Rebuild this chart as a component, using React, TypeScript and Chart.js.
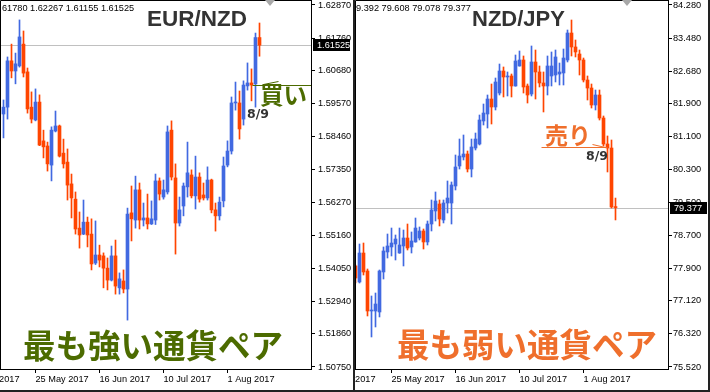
import React, { useEffect, useRef } from 'react';
import { Chart, registerables } from 'chart.js';

Chart.register(...registerables);

// ---- shared date axis (trading-day index) ----
const dateTickDays = [-8, 8, 24, 40, 56];
const dateTickLabels = ['3 May 2017', '25 May 2017', '16 Jun 2017', '10 Jul 2017', '1 Aug 2017'];
const signalDay = 62; // 8/9

// ---- EUR/NZD daily ----
const eurNzdFirstDay = 0;
const eurNzdOpen = [
  1.5922, 1.5945, 1.6100, 1.6066, 1.6083, 1.6156, 1.6063, 1.5945, 1.5902, 1.5962,
  1.5832, 1.5815, 1.5751, 1.5865, 1.5882, 1.5791, 1.5761, 1.5688, 1.5637, 1.5540,
  1.5520, 1.5560, 1.5520, 1.5423, 1.5450, 1.5447, 1.5406, 1.5366, 1.5447, 1.5340,
  1.5363, 1.5336, 1.5591, 1.5567, 1.5668, 1.5567, 1.5574, 1.5554, 1.5567, 1.5698,
  1.5644, 1.5661, 1.5868, 1.5708, 1.5557, 1.5614, 1.5678, 1.5718, 1.5648, 1.5711,
  1.5651, 1.5641, 1.5701, 1.5601, 1.5581, 1.5631, 1.5751, 1.5798, 1.5959, 1.5959,
  1.5905, 1.6016, 1.6026, 1.6023, 1.6178,
];
const eurNzdHigh = [
  1.5969, 1.6113, 1.6156, 1.6126, 1.6237, 1.6200, 1.6076, 1.5996, 1.6006, 1.5986,
  1.5868, 1.5828, 1.5879, 1.5932, 1.5885, 1.5838, 1.5805, 1.5721, 1.5661, 1.5594,
  1.5634, 1.5577, 1.5571, 1.5564, 1.5483, 1.5457, 1.5440, 1.5480, 1.5500, 1.5390,
  1.5400, 1.5607, 1.5681, 1.5714, 1.5691, 1.5624, 1.5654, 1.5631, 1.5721, 1.5708,
  1.5701, 1.5882, 1.5899, 1.5755, 1.5644, 1.5691, 1.5828, 1.5735, 1.5781, 1.5725,
  1.5691, 1.5745, 1.5704, 1.5624, 1.5644, 1.5778, 1.5832, 1.5979, 1.6029, 1.5999,
  1.6033, 1.6093, 1.6073, 1.6193, 1.62267,
];
const eurNzdLow = [
  1.5842, 1.5905, 1.6043, 1.6023, 1.6079, 1.6046, 1.5925, 1.5892, 1.5899, 1.5816,
  1.5775, 1.5731, 1.5698, 1.5862, 1.5778, 1.5741, 1.5634, 1.5574, 1.5520, 1.5473,
  1.5518, 1.5477, 1.5400, 1.5418, 1.5410, 1.5340, 1.5333, 1.5363, 1.5319, 1.5319,
  1.5323, 1.5232, 1.5497, 1.5540, 1.5537, 1.5547, 1.5537, 1.5552, 1.5552, 1.5634,
  1.5637, 1.5654, 1.5701, 1.5453, 1.5547, 1.5581, 1.5644, 1.5641, 1.5604, 1.5627,
  1.5634, 1.5634, 1.5591, 1.5530, 1.5567, 1.5611, 1.5745, 1.5788, 1.5935, 1.5838,
  1.5885, 1.6002, 1.5966, 1.5945, 1.61155,
];
const eurNzdClose = [
  1.5945, 1.6100, 1.6066, 1.6090, 1.6180, 1.6059, 1.5939, 1.5905, 1.5962, 1.5818,
  1.5812, 1.5755, 1.5868, 1.5882, 1.5781, 1.5755, 1.5684, 1.5641, 1.5537, 1.5517,
  1.5560, 1.5517, 1.5420, 1.5450, 1.5433, 1.5406, 1.5366, 1.5447, 1.5346, 1.5370,
  1.5336, 1.5587, 1.5571, 1.5668, 1.5567, 1.5574, 1.5554, 1.5571, 1.5698, 1.5654,
  1.5668, 1.5862, 1.5711, 1.5557, 1.5601, 1.5681, 1.5725, 1.5648, 1.5711, 1.5637,
  1.5641, 1.5701, 1.5601, 1.5581, 1.5627, 1.5748, 1.5798, 1.5959, 1.5962, 1.5872,
  1.6019, 1.6026, 1.6019, 1.6178, 1.61525,
];
const eurNzdTicks = [1.6287, 1.6176, 1.6068, 1.5957, 1.5846, 1.5735, 1.5627, 1.5516, 1.5405, 1.5294, 1.5186, 1.5075];

// ---- NZD/JPY daily ----
const nzdJpyFirstDay = -1;
const nzdJpyOpen = [
  77.964, 77.577, 78.278, 77.843, 76.875, 76.875, 76.851, 77.819, 78.303, 78.424,
  78.496, 78.278, 78.448, 78.641, 78.424, 78.545, 78.641, 78.811, 78.545, 78.980,
  79.295, 79.464, 79.077, 79.488, 79.488, 79.900, 80.384, 80.602, 80.674, 80.311,
  80.819, 80.916, 81.473, 81.642, 82.005, 81.812, 82.150, 82.683, 82.538, 82.562,
  82.320, 82.804, 82.949, 82.320, 82.126, 82.901, 82.659, 82.393, 82.320, 82.562,
  82.586, 82.610, 82.635, 82.949, 83.602, 83.264, 83.094, 82.949, 82.465, 82.271,
  81.860, 82.102, 81.545, 80.916, 80.819, 79.392,
];
const nzdJpyHigh = [
  77.988, 78.496, 78.520, 77.891, 77.238, 77.310, 77.867, 78.424, 78.738, 78.883,
  78.714, 78.883, 78.835, 78.980, 78.787, 79.125, 78.908, 78.859, 79.053, 79.561,
  79.755, 79.561, 79.561, 80.021, 79.997, 80.650, 81.037, 81.134, 80.747, 81.037,
  81.182, 81.618, 81.884, 82.102, 82.368, 82.513, 82.852, 82.780, 82.659, 82.610,
  83.070, 83.167, 83.046, 82.368, 83.288, 83.191, 82.804, 82.659, 83.046, 83.143,
  83.191, 82.876, 83.215, 83.675, 83.917, 83.433, 83.191, 82.997, 82.562, 82.368,
  82.223, 82.223, 81.594, 81.110, 81.013, 79.608,
];
const nzdJpyLow = [
  77.552, 77.552, 77.746, 76.754, 76.246, 76.488, 76.730, 77.649, 78.157, 78.206,
  78.109, 78.270, 77.964, 78.351, 78.278, 78.540, 78.593, 78.375, 78.472, 78.811,
  79.053, 78.932, 79.005, 79.246, 78.980, 79.803, 80.311, 80.529, 80.239, 80.118,
  80.771, 80.892, 81.376, 81.303, 81.400, 81.739, 82.102, 82.054, 82.078, 82.054,
  82.315, 82.800, 82.150, 81.908, 82.078, 82.005, 82.296, 81.691, 82.102, 82.320,
  82.417, 82.344, 82.344, 82.901, 83.046, 83.022, 82.586, 82.417, 81.981, 81.787,
  81.739, 81.497, 80.868, 80.239, 79.367, 79.078,
];
const nzdJpyClose = [
  77.673, 78.278, 77.819, 76.875, 76.899, 77.044, 77.843, 78.327, 78.448, 78.520,
  78.617, 78.472, 78.641, 78.399, 78.569, 78.883, 78.811, 78.545, 78.980, 79.319,
  79.537, 79.101, 79.488, 79.609, 79.924, 80.360, 80.626, 80.674, 80.311, 80.844,
  81.037, 81.497, 81.666, 82.005, 81.812, 82.417, 82.683, 82.538, 82.562, 82.320,
  82.925, 82.949, 82.296, 82.102, 82.901, 82.659, 82.393, 82.320, 82.804, 82.804,
  83.022, 82.659, 82.997, 83.602, 83.264, 83.143, 82.949, 82.465, 82.271, 81.860,
  82.102, 81.545, 80.916, 80.819, 79.392, 79.377,
];
const nzdJpyTicks = [84.28, 83.48, 82.68, 81.9, 81.1, 80.3, 79.5, 78.7, 77.9, 77.12, 76.32, 75.52];

const BULL = '#4169E1';
const BEAR = '#FF4500';
const GREEN = '#4c6b00';
const ORANGE = '#ef6f2c';
const AXIS_FONT = '"Liberation Sans", Arial, sans-serif';

type Panel = {
  open: number[]; high: number[]; low: number[]; close: number[];
  firstDay: number; ticks: number[]; decimals: number;
  yMin: number; yMax: number; xMin: number; xMax: number;
  axisWidth: number; labelPad: number; signal: 'buy' | 'sell';
};

const panels: Panel[] = [
  {
    open: eurNzdOpen, high: eurNzdHigh, low: eurNzdLow, close: eurNzdClose,
    firstDay: eurNzdFirstDay, ticks: eurNzdTicks, decimals: 5,
    yMin: 1.50683, yMax: 1.63037, xMin: -0.875, xMax: 76.875,
    axisWidth: 42, labelPad: 3, signal: 'buy',
  },
  {
    open: nzdJpyOpen, high: nzdJpyHigh, low: nzdJpyLow, close: nzdJpyClose,
    firstDay: nzdJpyFirstDay, ticks: nzdJpyTicks, decimals: 3,
    yMin: 75.471, yMax: 84.401, xMin: -1.125, xMax: 77.125,
    axisWidth: 40, labelPad: 1, signal: 'sell',
  },
];

function makeOverlay(p: Panel) {
  return {
    id: 'mt4overlay',
    beforeDatasetsDraw(chart: any) {
      const { ctx, chartArea: a, scales } = chart;
      const last = p.close[p.close.length - 1];
      const py = Math.round(scales.y.getPixelForValue(last)) + 0.5;
      ctx.save();
      ctx.strokeStyle = '#c0c0c0';
      ctx.lineWidth = 1;
      ctx.beginPath();
      ctx.moveTo(a.left, py);
      ctx.lineTo(a.right, py);
      ctx.stroke();
      ctx.restore();
    },
    afterDraw(chart: any) {
      const { ctx, chartArea: a, scales } = chart;
      const x = scales.x, y = scales.y;
      ctx.save();
      // frame
      ctx.strokeStyle = '#000';
      ctx.lineWidth = 1;
      ctx.beginPath();
      ctx.moveTo(a.left + 0.5, a.bottom);
      ctx.lineTo(a.left + 0.5, a.top + 0.5);
      ctx.lineTo(a.right, a.top + 0.5);
      ctx.stroke();
      // chart-shift marker
      const cx = a.right - 41;
      ctx.fillStyle = '#a8a8a8';
      ctx.beginPath();
      ctx.moveTo(cx - 5, 0);
      ctx.lineTo(cx + 5, 0);
      ctx.lineTo(cx, 6);
      ctx.closePath();
      ctx.fill();
      // signal trend lines
      const si = signalDay - p.firstDay;
      const sx = x.getPixelForValue(signalDay);
      const sy = Math.round(y.getPixelForValue(p.close[si])) + 0.5;
      ctx.lineWidth = 1;
      if (p.signal === 'buy') {
        ctx.strokeStyle = GREEN;
        ctx.beginPath();
        ctx.moveTo(sx + 1, sy);
        ctx.lineTo(a.right, sy);
        ctx.stroke();
        ctx.beginPath();
        ctx.moveTo(sx + 12, sy - 1);
        ctx.lineTo(sx + 27, sy - 4);
        ctx.stroke();
      } else {
        ctx.strokeStyle = ORANGE;
        ctx.beginPath();
        ctx.moveTo(sx - 66, sy - 1);
        ctx.lineTo(sx, sy - 1);
        ctx.stroke();
        ctx.beginPath();
        ctx.moveTo(sx - 15, sy - 4);
        ctx.lineTo(sx - 2, sy - 1);
        ctx.stroke();
      }
      // current price box
      const last = p.close[p.close.length - 1];
      const py = Math.round(y.getPixelForValue(last));
      ctx.fillStyle = '#000';
      ctx.fillRect(a.right + 2, py - 6, 37, 12);
      ctx.fillStyle = '#fff';
      ctx.font = '9.2px ' + AXIS_FONT;
      ctx.textBaseline = 'middle';
      ctx.textAlign = 'left';
      ctx.fillText(last.toFixed(p.decimals), a.right + 6, py + 0.5);
      ctx.restore();
    },
  };
}

function buildChart(canvas: HTMLCanvasElement, p: Panel) {
  const days = p.close.map((_, i) => p.firstDay + i);
  const colors = p.close.map((c, i) => (c >= p.open[i] ? BULL : BEAR));
  const bodies = days.map((d, i) => ({ x: d, y: [p.open[i], p.close[i]] }));
  const wicks = days.map((d, i) => ({ x: d, y: [p.low[i], p.high[i]] }));
  return new Chart(canvas, {
    type: 'bar',
    data: {
      datasets: [
        { data: bodies as any, backgroundColor: colors, borderWidth: 0, barThickness: 3, grouped: false, minBarLength: 1 } as any,
        { data: wicks as any, backgroundColor: colors, borderWidth: 0, barThickness: 1, grouped: false } as any,
      ],
    },
    options: {
      animation: false,
      responsive: false,
      maintainAspectRatio: false,
      devicePixelRatio: 1,
      layout: { padding: 0 },
      events: [],
      plugins: { legend: { display: false }, tooltip: { enabled: false }, title: { display: false } },
      scales: {
        x: {
          type: 'linear',
          position: 'bottom',
          min: p.xMin,
          max: p.xMax,
          offset: false,
          grid: { drawOnChartArea: false, drawTicks: true, tickLength: 4, color: '#000', offset: false },
          border: { display: true, color: '#000', width: 1 },
          ticks: {
            autoSkip: false, maxRotation: 0, minRotation: 0, align: 'start', padding: 1,
            color: '#000', font: { family: AXIS_FONT, size: 9.2 },
            callback: (v: any) => {
              const k = dateTickDays.indexOf(Number(v));
              return k >= 0 ? dateTickLabels[k] : '';
            },
          },
          afterBuildTicks: (s: any) => { s.ticks = dateTickDays.map((v) => ({ value: v })); },
          afterFit: (s: any) => { s.height = 21; s.paddingLeft = 0; s.paddingRight = 0; },
        } as any,
        y: {
          type: 'linear',
          position: 'right',
          min: p.yMin,
          max: p.yMax,
          beginAtZero: false,
          grid: { drawOnChartArea: false, drawTicks: true, tickLength: 4, color: '#000' },
          border: { display: true, color: '#000', width: 1 },
          ticks: {
            padding: p.labelPad, color: '#000', font: { family: AXIS_FONT, size: 9.2 },
            callback: (v: any) => Number(v).toFixed(p.decimals),
          },
          afterBuildTicks: (s: any) => { s.ticks = p.ticks.map((v) => ({ value: v })); },
          afterFit: (s: any) => { s.width = p.axisWidth; s.paddingTop = 0; s.paddingBottom = 0; },
        } as any,
      },
    },
    plugins: [makeOverlay(p)],
  });
}

const abs = (left: number, top: number, extra: React.CSSProperties = {}): React.CSSProperties => ({
  position: 'absolute', left, top, whiteSpace: 'nowrap', lineHeight: 1, margin: 0, ...extra,
});

export default function App() {
  const leftRef = useRef<HTMLCanvasElement>(null);
  const rightRef = useRef<HTMLCanvasElement>(null);

  useEffect(() => {
    document.body.style.margin = '0';
    const c1 = buildChart(leftRef.current!, panels[0]);
    const c2 = buildChart(rightRef.current!, panels[1]);
    return () => { c1.destroy(); c2.destroy(); };
  }, []);

  const header: React.CSSProperties = { fontFamily: AXIS_FONT, fontSize: 9.2, color: '#000' };
  const title: React.CSSProperties = { fontFamily: AXIS_FONT, fontWeight: 700, color: '#333' };
  const cjk = '"Noto Sans CJK JP", "Noto Sans CJK SC", sans-serif';
  const big: React.CSSProperties = { fontFamily: cjk, fontWeight: 700, fontSize: 32.5, textShadow: '0 0 2px #fff' };
  const date: React.CSSProperties = { fontFamily: '"DejaVu Sans", sans-serif', fontWeight: 700, fontSize: 12.5, color: '#333' };

  return (
    <div style={{ position: 'relative', width: 710, height: 392, overflow: 'hidden', background: '#fff' }}>
      <canvas ref={leftRef} width={353} height={390} style={{ position: 'absolute', left: 0, top: 0, width: 353, height: 390 }} />
      <canvas ref={rightRef} width={353} height={390} style={{ position: 'absolute', left: 355, top: 0, width: 353, height: 390 }} />
      <div style={abs(353, 0, { width: 2, height: 392, background: '#222' })} />
      <div style={abs(708, 0, { width: 2, height: 392, background: '#222' })} />
      <div style={abs(0, 390, { width: 710, height: 2, background: '#222' })} />

      <div style={abs(2, 4, header)}>61780 1.62267 1.61155 1.61525</div>
      <div style={abs(356, 4, header)}>9.392 79.608 79.078 79.377</div>

      <div style={abs(147, 8, { ...title, fontSize: 22.5 })}>EUR/NZD</div>
      <div style={abs(472, 8, { ...title, fontSize: 22 })}>NZD/JPY</div>

      <div style={abs(260, 82.5, { fontFamily: cjk, fontWeight: 700, fontSize: 23.5, color: GREEN })}>買い</div>
      <div style={abs(247, 108, date)}>8/9</div>
      <div style={abs(545, 122.5, { fontFamily: cjk, fontWeight: 700, fontSize: 23, color: ORANGE })}>売り</div>
      <div style={abs(586, 150, date)}>8/9</div>

      <div style={abs(23, 328, { ...big, color: GREEN })}>最も強い通貨ペア</div>
      <div style={abs(397, 327, { ...big, color: ORANGE })}>最も弱い通貨ペア</div>
    </div>
  );
}
